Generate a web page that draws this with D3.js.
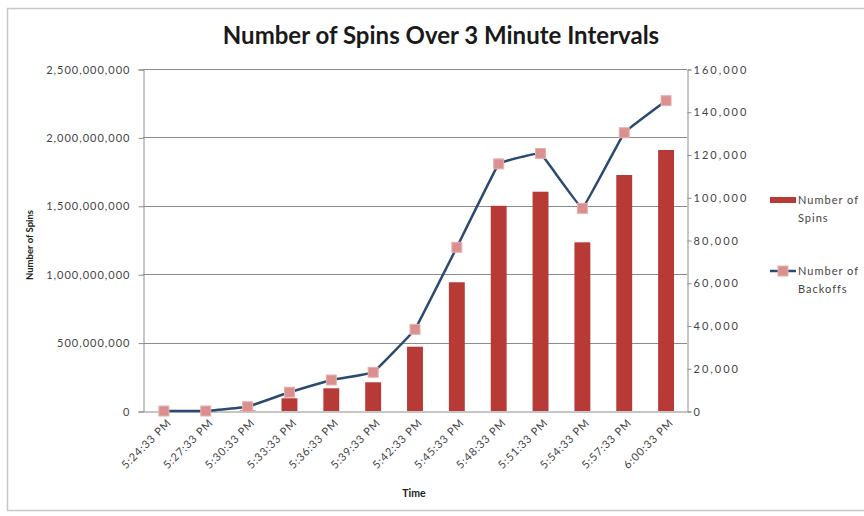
<!DOCTYPE html>
<html>
<head>
<meta charset="utf-8">
<script src="https://cdnjs.cloudflare.com/ajax/libs/d3/7.8.5/d3.min.js"></script>
<style>
    body { margin: 0; background: #fff; }
    svg { display: block; font-family: Lato, "Open Sans", sans-serif; }
</style>
</head>
<body>
<div id="chart"></div>
<script>
// chart data
var times = ['5:24:33 PM', '5:27:33 PM', '5:30:33 PM', '5:33:33 PM', '5:36:33 PM', '5:39:33 PM', '5:42:33 PM',
    '5:45:33 PM', '5:48:33 PM', '5:51:33 PM', '5:54:33 PM', '5:57:33 PM', '6:00:33 PM'];
var spins = [0, 0, 4000000, 93000000, 166000000, 210000000, 470000000,
    941000000, 1500000000, 1603000000, 1233000000, 1725000000, 1908000000];
var backoffs = [0, 0, 2000, 8800, 14500, 18100, 38200,
    76600, 115600, 120500, 94800, 130200, 145200];
var leftTicks = [0, 500000000, 1000000000, 1500000000, 2000000000, 2500000000];
var rightTicks = [0, 20000, 40000, 60000, 80000, 100000, 120000, 140000, 160000];

var width = 864, height = 516;
var plotLeft = 143, plotRight = 687, plotTop = 69, plotBottom = 411;

var svg = d3.select('#chart').append('svg')
    .attr('width', width)
    .attr('height', height);

// outer frame
svg.append('rect')
    .attr('x', 7.5).attr('y', 8.5)
    .attr('width', 870).attr('height', 502)
    .attr('fill', 'none')
    .attr('stroke', '#c8c8c8')
    .attr('stroke-width', 1.5);

var x = d3.scaleBand().domain(times).range([plotLeft, plotRight]).paddingInner(0.62).paddingOuter(0.31);
var xc = d3.scaleBand().domain(times).range([plotLeft, plotRight]);
var y = d3.scaleLinear().domain([0, 2500000000]).range([plotBottom, plotTop]);
var y2 = d3.scaleLinear().domain([0, 160000]).range([plotBottom, plotTop]);

// gridlines
svg.append('g')
    .selectAll('line')
    .data(leftTicks.slice(1))
    .enter().append('line')
    .attr('x1', plotLeft).attr('x2', plotRight)
    .attr('y1', function(d) { return Math.round(y(d)) + 0.5; })
    .attr('y2', function(d) { return Math.round(y(d)) + 0.5; })
    .attr('stroke', '#8c8c8c')
    .attr('stroke-width', 1);

// left axis
var leftAxis = svg.append('g')
    .attr('transform', 'translate(' + (plotLeft + 0.5) + ',0.5)')
    .call(d3.axisLeft(y).tickValues(leftTicks).tickSize(5).tickPadding(8).tickFormat(d3.format(',')));

// right axis
var rightAxis = svg.append('g')
    .attr('transform', 'translate(' + (plotRight + 0.5) + ',0.5)')
    .call(d3.axisRight(y2).tickValues(rightTicks).tickSize(4).tickPadding(2).tickFormat(d3.format(',')));

// bottom axis
var bottomAxis = svg.append('g')
    .attr('transform', 'translate(0,' + (plotBottom + 0.5) + ')')
    .call(d3.axisBottom(xc).tickSize(0).tickPadding(0));

[leftAxis, rightAxis, bottomAxis].forEach(function(ax) {
    ax.select('.domain').attr('stroke', '#8c8c8c');
    ax.selectAll('.tick line').attr('stroke', '#8c8c8c');
    ax.selectAll('text').attr('fill', '#444').style('font-size', '11px').style('font-family', 'Lato, sans-serif');
});
leftAxis.selectAll('text').style('letter-spacing', '1px');
rightAxis.selectAll('text').style('letter-spacing', '2px');

bottomAxis.selectAll('.tick text')
    .attr('text-anchor', 'end')
    .attr('dy', 0)
    .style('letter-spacing', '0.8px')
    .attr('transform', 'translate(8,12) rotate(-45)');

// bars
svg.append('g')
    .selectAll('rect')
    .data(spins)
    .enter().append('rect')
    .attr('x', function(d, i) { return x(times[i]); })
    .attr('width', x.bandwidth())
    .attr('y', function(d) { return y(d); })
    .attr('height', function(d) { return plotBottom - y(d); })
    .attr('fill', '#b73a37');

// line
var line = d3.line()
    .x(function(d, i) { return xc(times[i]) + xc.bandwidth() / 2; })
    .y(function(d) { return y2(d); })
    .curve(d3.curveCardinal.tension(0.85));

svg.append('path')
    .datum(backoffs)
    .attr('d', line)
    .attr('fill', 'none')
    .attr('stroke', '#2a4a72')
    .attr('stroke-width', 2.5);

svg.append('g')
    .selectAll('rect')
    .data(backoffs)
    .enter().append('rect')
    .attr('x', function(d, i) { return xc(times[i]) + xc.bandwidth() / 2 - 5; })
    .attr('y', function(d) { return y2(d) - 5; })
    .attr('width', 10).attr('height', 10)
    .attr('fill', '#d9908f')
    .attr('stroke', '#e8b0ae')
    .attr('stroke-width', 1);

// title
svg.append('text')
    .attr('x', 441).attr('y', 44)
    .attr('text-anchor', 'middle')
    .style('font-size', '24px')
    .style('font-weight', 'bold')
    .attr('fill', '#1a1a1a')
    .text('Number of Spins Over 3 Minute Intervals');

// axis titles
svg.append('text')
    .attr('transform', 'translate(33,245) rotate(-90)')
    .attr('text-anchor', 'middle')
    .style('font-size', '9.5px')
    .style('font-weight', 'bold')
    .attr('fill', '#222')
    .text('Number of Spins');

svg.append('text')
    .attr('x', 414).attr('y', 497)
    .attr('text-anchor', 'middle')
    .style('font-size', '10.5px')
    .style('font-weight', 'bold')
    .attr('fill', '#222')
    .text('Time');

// legend
var legend = svg.append('g')
    .style('font-size', '11px')
    .style('letter-spacing', '1px');
legend.append('rect')
    .attr('x', 770).attr('y', 197)
    .attr('width', 26).attr('height', 6)
    .attr('fill', '#b73a37');
legend.append('text')
    .attr('x', 798).attr('y', 204)
    .attr('fill', '#444')
    .text('Number of');
legend.append('text')
    .attr('x', 798).attr('y', 222)
    .attr('fill', '#444')
    .text('Spins');

legend.append('line')
    .attr('x1', 770).attr('x2', 796)
    .attr('y1', 271).attr('y2', 271)
    .attr('stroke', '#2a4a72').attr('stroke-width', 2.5);
legend.append('rect')
    .attr('x', 778).attr('y', 266)
    .attr('width', 10).attr('height', 10)
    .attr('fill', '#d9908f')
    .attr('stroke', '#e8b0ae');
legend.append('text')
    .attr('x', 798).attr('y', 275)
    .attr('fill', '#444')
    .text('Number of');
legend.append('text')
    .attr('x', 798).attr('y', 293)
    .attr('fill', '#444')
    .text('Backoffs');
</script>
</body>
</html>
